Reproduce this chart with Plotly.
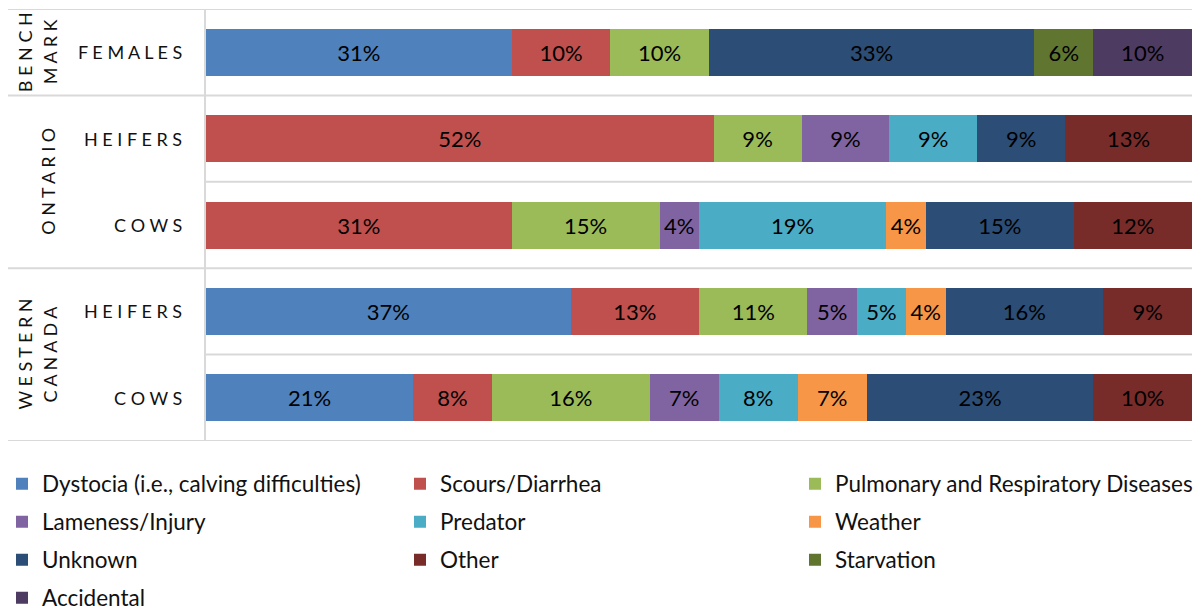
import plotly.graph_objects as go

# Rows of the stacked bar chart (top to bottom)
groups = ["BENCH MARK", "ONTARIO", "ONTARIO", "WESTERN CANADA", "WESTERN CANADA"]
rows = ["FEMALES", "HEIFERS", "COWS", "HEIFERS", "COWS"]

# Share of calf deaths by cause (%), one value per row; None = cause not reported
causes = [
    "Dystocia (i.e., calving difficulties)",
    "Scours/Diarrhea",
    "Pulmonary and Respiratory Diseases",
    "Lameness/Injury",
    "Predator",
    "Weather",
    "Unknown",
    "Other",
    "Starvation",
    "Accidental",
]
dystocia = [31, None, None, 37, 21]
scours = [10, 52, 31, 13, 8]
pulmonary = [10, 9, 15, 11, 16]
lameness = [None, 9, 4, 5, 7]
predator = [None, 9, 19, 5, 8]
weather = [None, None, 4, 4, 7]
unknown = [33, 9, 15, 16, 23]
other = [None, 13, 12, 9, 10]
starvation = [6, None, None, None, None]
accidental = [10, None, None, None, None]
values = [dystocia, scours, pulmonary, lameness, predator, weather,
          unknown, other, starvation, accidental]

colors = ["#4F81BD", "#C0504D", "#9BBB59", "#8064A2", "#4BACC6",
          "#F79646", "#2C4D75", "#772C2A", "#5F7530", "#4D3B62"]

FONT = "Lato"
keys = [f"{g} | {r}" for g, r in zip(groups, rows)]

W, H = 1197, 610
L, R, T, B = 206, 5, 9, 169
plot_w = W - L - R

# legend grid: three columns, rows every 38 px below the bars
LEGEND_COL_X = [2, 400, 795]
LEGEND_ROW_Y = [484, 522, 560, 598]

fig = go.Figure()
legends = {}
for i, (name, vals, col) in enumerate(zip(causes, values, colors)):
    ys = [k for k, v in zip(keys, vals) if v is not None]
    xs = [v for v in vals if v is not None]
    legend_id = "legend" if i == 0 else f"legend{i + 1}"
    fig.add_trace(go.Bar(
        y=ys, x=xs, name=name, orientation="h",
        marker=dict(color=col, line=dict(width=0)),
        text=[f"{v}%" for v in xs],
        textposition="inside", insidetextanchor="middle",
        textfont=dict(family=FONT, size=22, color="#000000"),
        constraintext="none",
        legend=legend_id,
    ))
    legends[legend_id] = dict(
        orientation="h", xref="container", yref="container",
        x=LEGEND_COL_X[i % 3] / W, y=1 - LEGEND_ROW_Y[i // 3] / H,
        xanchor="left", yanchor="middle",
        font=dict(family=FONT, size=22.5, color="#111111"),
        bgcolor="rgba(0,0,0,0)", itemclick=False, itemdoubleclick=False,
    )


def px_to_paper(px):
    return (px - L) / plot_w


def spaced(word):
    return "\u00a0".join(word)


GRID = "#D9D9D9"
shapes = []
# separators between region groups, reaching across the label column
for yv in [-0.5, 0.5, 2.5, 4.5]:
    shapes.append(dict(type="line", xref="paper", yref="y",
                       x0=px_to_paper(8), x1=1, y0=yv, y1=yv,
                       line=dict(color=GRID, width=2), layer="below"))
# separators between rows inside a group
for yv in [1.5, 3.5]:
    shapes.append(dict(type="line", xref="paper", yref="y",
                       x0=px_to_paper(205), x1=1, y0=yv, y1=yv,
                       line=dict(color=GRID, width=2), layer="below"))
# vertical category axis line
shapes.append(dict(type="line", xref="paper", yref="y",
                   x0=px_to_paper(205), x1=px_to_paper(205), y0=-0.5, y1=4.5,
                   line=dict(color=GRID, width=2), layer="below"))

annotations = []
for k, r in zip(keys, rows):
    annotations.append(dict(xref="paper", yref="y", x=px_to_paper(184), y=k,
                            xanchor="right", yanchor="middle", showarrow=False,
                            text=spaced(r),
                            font=dict(family=FONT, size=18, color="#111111")))

# region labels, rotated, one annotation per word line
group_spans = {}
for idx, g in enumerate(groups):
    group_spans.setdefault(g, []).append(idx)
for g, idxs in group_spans.items():
    yc = (idxs[0] + idxs[-1]) / 2
    words = g.split()
    xs_px = [48] if len(words) == 1 else [25, 50]
    for w, xp in zip(words, xs_px):
        annotations.append(dict(xref="paper", yref="y", x=px_to_paper(xp), y=yc,
                                xanchor="center", yanchor="middle", showarrow=False,
                                textangle=-90, text=spaced(w),
                                font=dict(family=FONT, size=18, color="#111111")))

fig.update_layout(
    width=W, height=H,
    margin=dict(l=L, r=R, t=T, b=B, autoexpand=False),
    paper_bgcolor="white", plot_bgcolor="white",
    barmode="stack", barnorm="percent", bargap=0.456,
    xaxis=dict(range=[0, 100], visible=False, fixedrange=True),
    yaxis=dict(type="category", categoryorder="array", categoryarray=keys,
               range=[4.5, -0.5], showticklabels=False, showgrid=False,
               zeroline=False, showline=False, fixedrange=True),
    shapes=shapes, annotations=annotations,
    showlegend=True,
    **legends,
)

fig.write_html("out.html")
